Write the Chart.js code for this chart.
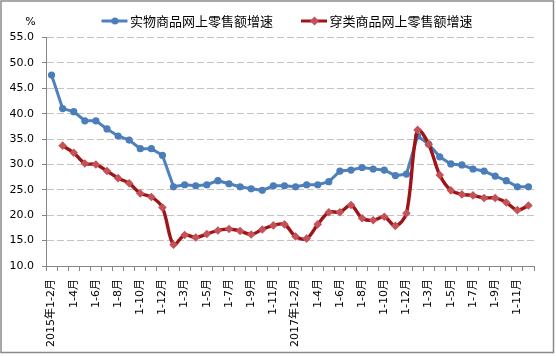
<!DOCTYPE html>
<html><head><meta charset="utf-8">
<script src="https://cdn.jsdelivr.net/npm/chart.js@4.4.0/dist/chart.umd.min.js"></script>
<style>html,body{margin:0;padding:0;background:#fff}#wrap{width:556px;height:356px}</style>
</head><body><div id="wrap"><canvas id="c" width="556" height="356"></canvas></div>
<script>
const categories = [
  '2015年1-2月','1-3月','1-4月','1-5月','1-6月','1-7月','1-8月','1-9月','1-10月','1-11月','1-12月',
  '2016年1-2月','1-3月','1-4月','1-5月','1-6月','1-7月','1-8月','1-9月','1-10月','1-11月','1-12月',
  '2017年1-2月','1-3月','1-4月','1-5月','1-6月','1-7月','1-8月','1-9月','1-10月','1-11月','1-12月',
  '2018年1-2月','1-3月','1-4月','1-5月','1-6月','1-7月','1-8月','1-9月','1-10月','1-11月','1-12月'
];
const seriesNames = ['实物商品网上零售额增速', '穿类商品网上零售额增速'];
const physicalGrowth = [
  47.6, 41.0, 40.4, 38.6, 38.6, 37.0, 35.6, 34.8, 33.1, 33.1, 31.8,
  25.6, 26.0, 25.8, 26.0, 26.8, 26.2, 25.6, 25.2, 24.9, 25.8, 25.8,
  25.6, 26.0, 26.0, 26.6, 28.7, 28.9, 29.4, 29.1, 28.9, 27.8, 28.1,
  35.6, 34.0, 31.5, 30.1, 29.9, 29.1, 28.7, 27.7, 26.8, 25.6, 25.6
];
const apparelGrowth = [
  null, 33.7, 32.3, 30.2, 30.0, 28.7, 27.3, 26.3, 24.3, 23.6, 21.5,
  14.2, 16.1, 15.6, 16.3, 17.0, 17.3, 16.9, 16.2, 17.2, 18.0, 18.2,
  15.8, 15.4, 18.2, 20.6, 20.6, 22.0, 19.4, 19.0, 19.7, 17.9, 20.4,
  36.8, 34.0, 27.9, 24.9, 24.1, 23.9, 23.4, 23.4, 22.5, 21.0, 21.9
];
const yMin = 10, yMax = 55, yStep = 5;
const yUnit = '%';

const BLUE = '#4F81BD', BLUE_PT = '#4A7DBA';
const RED = '#9E1519', RED_PT = '#C55257';

function legendImage(lineColor, ptColor, style) {
  const c = document.createElement('canvas');
  c.width = 52; c.height = 12;
  const g = c.getContext('2d');
  g.strokeStyle = lineColor; g.lineWidth = 3;
  g.beginPath(); g.moveTo(24, 6); g.lineTo(50, 6); g.stroke();
  g.fillStyle = ptColor;
  g.beginPath();
  if (style === 'circle') { g.arc(37.5, 6, 3.5, 0, Math.PI * 2); }
  else { g.moveTo(37.5, 1.5); g.lineTo(42, 6); g.lineTo(37.5, 10.5); g.lineTo(33, 6); g.closePath(); }
  g.fill();
  return c;
}
const legendImgs = [legendImage(BLUE, BLUE_PT, 'circle'), legendImage(RED, RED_PT, 'diamond')];

const decor = {
  id: 'decor',
  beforeDraw(chart) {
    const ctx = chart.ctx;
    ctx.save(); ctx.fillStyle = '#fff'; ctx.fillRect(0, 0, chart.width, chart.height); ctx.restore();
  },
  afterDraw(chart) {
    const ctx = chart.ctx;
    ctx.save();
    ctx.strokeStyle = '#8a8a8a'; ctx.lineWidth = 1.5;
    ctx.strokeRect(1, 1, 552.5, 351.5);
    ctx.fillStyle = '#000';
    ctx.font = '11px "DejaVu Sans"';
    ctx.textAlign = 'center'; ctx.textBaseline = 'middle';
    ctx.fillText(yUnit, 30.5, 22.5);
    ctx.restore();
  }
};

new Chart(document.getElementById('c'), {
  type: 'line',
  data: {
    labels: categories,
    datasets: [
      { label: seriesNames[0], data: physicalGrowth, order: 1,
        borderColor: BLUE, borderWidth: 3, tension: 0,
        pointStyle: 'circle', pointRadius: 3.6, pointBackgroundColor: BLUE_PT, pointBorderColor: BLUE_PT, pointBorderWidth: 0 },
      { label: seriesNames[1], data: apparelGrowth, order: 0,
        borderColor: RED, borderWidth: 3.4, tension: 0.33,
        pointStyle: 'rectRot', pointRadius: 4.3, pointBackgroundColor: RED_PT, pointBorderColor: RED_PT, pointBorderWidth: 0 }
    ]
  },
  options: {
    responsive: false, animation: false, devicePixelRatio: 1,
    layout: { padding: { top: 4.5, left: 0, right: 0, bottom: 0 } },
    plugins: {
      tooltip: { enabled: false },
      legend: {
        position: 'top', align: 'center',
        labels: {
          usePointStyle: true, pointStyleWidth: 40, padding: 10, color: '#000',
          font: { family: '"Noto Sans CJK SC"', size: 13 },
          generateLabels(chart) {
            const items = Chart.defaults.plugins.legend.labels.generateLabels(chart);
            items.sort((a, b) => a.datasetIndex - b.datasetIndex);
            items.forEach(it => { it.pointStyle = legendImgs[it.datasetIndex]; it.lineWidth = 0; });
            return items;
          }
        }
      }
    },
    scales: {
      x: {
        type: 'category', offset: true,
        grid: { offset: true, drawOnChartArea: false, drawTicks: true, tickLength: 5, color: '#868686' },
        border: { color: '#868686', width: 1 },
        ticks: {
          autoSkip: false, maxRotation: 90, minRotation: 90, padding: 8, color: '#000',
          font: { family: '"DejaVu Sans", "Noto Sans CJK SC"', size: 11 },
          callback(v, i) { return i % 2 === 0 ? categories[i] : ''; }
        },
        afterFit(s) { s.height = 90; }
      },
      y: {
        min: yMin, max: yMax,
        grid: { color: '#C3C3C3', lineWidth: 1, tickLength: 4, tickColor: '#868686' },
        border: { color: '#868686', width: 1, dash: [7, 3] },
        ticks: {
          stepSize: yStep, padding: 8, color: '#000',
          font: { family: '"DejaVu Sans"', size: 11 },
          callback(v) { return Number(v).toFixed(1); }
        },
        afterFit(s) { s.width = 46; }
      },
      yR: {
        position: 'right', display: true,
        grid: { display: false, drawTicks: false }, border: { display: false },
        ticks: { display: false },
        afterFit(s) { s.width = 22; }
      }
    }
  },
  plugins: [decor]
});
</script>
</body></html>
